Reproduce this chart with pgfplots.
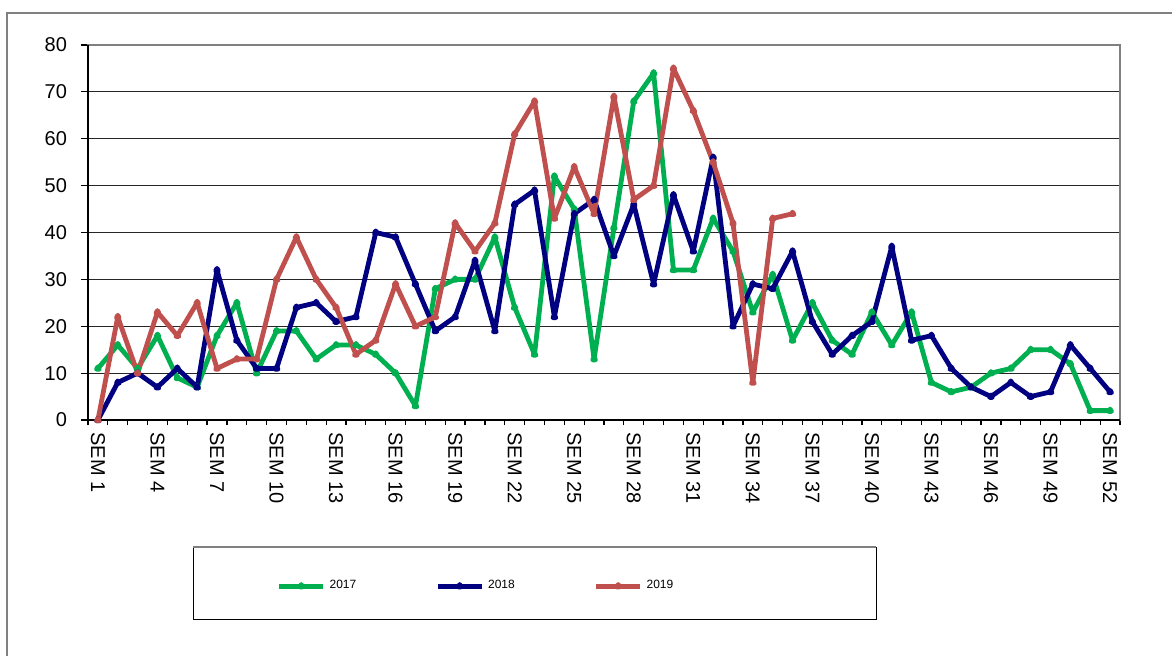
\documentclass[border=0pt]{standalone}
\usepackage{pgfplots}
\pgfplotsset{compat=1.18}
\usepackage{fontspec}
\setmainfont{Liberation Sans}

\definecolor{c17}{HTML}{00B050}
\definecolor{c18}{HTML}{000080}
\definecolor{c19}{HTML}{C0504D}

\begin{document}
\begin{tikzpicture}
\useasboundingbox (0,0) rectangle (586pt,327.5pt);
% outer chart frame (cut at right and bottom)
\draw[gray, line width=0.8pt] (3.5pt,-20pt) |- (620pt,321pt);
% legend box
\draw[black, line width=0.5pt] (96.5pt,18pt) rectangle (438pt,54pt);
\draw[gray, line width=0.8pt] (96.5pt,54pt) -- (438pt,54pt);

\begin{axis}[
  at={(44pt,117.5pt)}, anchor=south west,
  scale only axis, width=516pt, height=187.5pt,
  xmin=0.5, xmax=52.5, ymin=0, ymax=80,
  clip=false,
  font=\fontsize{10}{12}\selectfont,
  /pgf/number format/assume math mode=true,
  xtick={1,4,...,52},
  xticklabel={SEM \pgfmathprintnumber{\tick}},
  xticklabel style={rotate=-90, anchor=west, inner sep=0pt, xshift=2.5pt},
  minor xtick={0.5,1.5,...,52.5},
  ytick={0,10,...,80},
  yticklabel style={xshift=-3.5pt},
  xtick pos=bottom, ytick pos=left,
  tick align=outside,
  major tick length=3.5pt, minor tick length=2.5pt,
  major x tick style={draw=none},
  every tick/.style={black, line width=0.6pt},
  ymajorgrids,
  major grid style={black!85, line width=0.5pt},
  axis line style={gray, line width=0.9pt},
  every axis plot/.append style={line width=2.4pt, line join=round,
    mark=triangle*, mark size=0.8pt},
  legend style={draw=none, fill=none, at={(0.377,-0.443)}, anchor=center,
    font=\fontsize{6}{7}\selectfont, legend columns=3},
  /tikz/every even column/.append style={column sep=37.5pt},
  legend image code/.code={\draw[mark repeat=2, mark phase=2, #1]
    plot coordinates {(0pt,0pt) (11pt,0pt) (22pt,0pt)};},
]
\addplot[c17, mark options={fill=c17}] coordinates {
(1,11) (2,16) (3,11) (4,18) (5,9) (6,7) (7,18) (8,25) (9,10) (10,19)
(11,19) (12,13) (13,16) (14,16) (15,14) (16,10) (17,3) (18,28) (19,30) (20,30)
(21,39) (22,24) (23,14) (24,52) (25,45) (26,13) (27,41) (28,68) (29,74) (30,32)
(31,32) (32,43) (33,36) (34,23) (35,31) (36,17) (37,25) (38,17) (39,14) (40,23)
(41,16) (42,23) (43,8) (44,6) (45,7) (46,10) (47,11) (48,15) (49,15) (50,12)
(51,2) (52,2)};
\addplot[c18, mark options={fill=c18}] coordinates {
(1,0) (2,8) (3,10) (4,7) (5,11) (6,7) (7,32) (8,17) (9,11) (10,11)
(11,24) (12,25) (13,21) (14,22) (15,40) (16,39) (17,29) (18,19) (19,22) (20,34)
(21,19) (22,46) (23,49) (24,22) (25,44) (26,47) (27,35) (28,46) (29,29) (30,48)
(31,36) (32,56) (33,20) (34,29) (35,28) (36,36) (37,21) (38,14) (39,18) (40,21)
(41,37) (42,17) (43,18) (44,11) (45,7) (46,5) (47,8) (48,5) (49,6) (50,16)
(51,11) (52,6)};
\addplot[c19, mark options={fill=c19}] coordinates {
(1,0) (2,22) (3,10) (4,23) (5,18) (6,25) (7,11) (8,13) (9,13) (10,30)
(11,39) (12,30) (13,24) (14,14) (15,17) (16,29) (17,20) (18,22) (19,42) (20,36)
(21,42) (22,61) (23,68) (24,43) (25,54) (26,44) (27,69) (28,47) (29,50) (30,75)
(31,66) (32,55) (33,42) (34,8) (35,43) (36,44)};
\legend{2017,2018,2019}
\draw[black, line width=0.9pt] (rel axis cs:0,1) -- (rel axis cs:0,0) -- (rel axis cs:1,0);
\end{axis}
\end{tikzpicture}
\end{document}
